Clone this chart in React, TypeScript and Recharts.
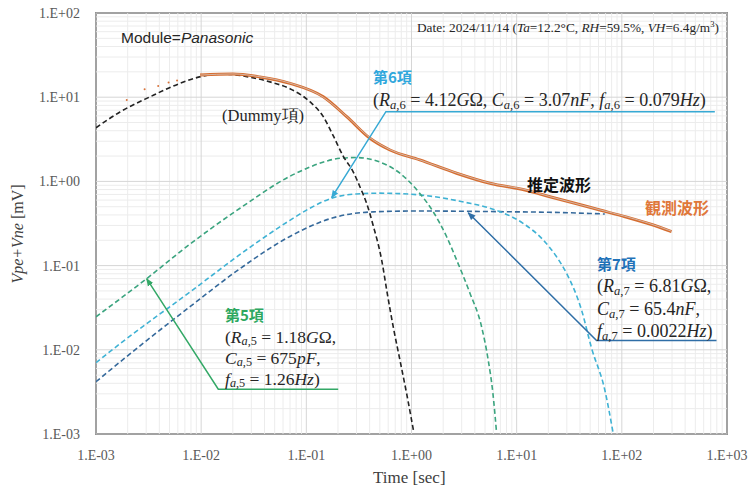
import React from 'react'
import { ComposedChart, Line, XAxis, YAxis, ReferenceLine, ReferenceArea } from 'recharts'

type P = [number, number]

const xTicks = [1e-3, 1e-2, 1e-1, 1, 10, 100, 1000]
const yTicks = [1e-3, 1e-2, 1e-1, 1, 10, 100]

// (time [s], voltage [mV])
const dummyTerm: P[] = [
  [1e-3, 4.34], [1.69e-3, 6.67], [3.26e-3, 10.1], [6.29e-3, 14.6], [0.01, 17.6], [0.0151, 18.9],
  [0.0291, 17.3], [0.0451, 15.2], [0.0698, 12.6], [0.108, 8.85], [0.145, 5.87], [0.18, 3.5],
  [0.224, 2.0], [0.279, 1.3], [0.323, 0.865], [0.374, 0.55], [0.432, 0.3], [0.52, 0.117],
  [0.588, 0.0469], [0.67, 0.0188], [0.776, 0.00757], [0.898, 0.00304], [1.054, 0.00103],
]
const term5: P[] = [
  [1e-3, 0.0247], [3.03e-3, 0.07], [7.83e-3, 0.18], [0.0234, 0.48], [0.0698, 1.15], [0.108, 1.48],
  [0.15, 1.72], [0.208, 1.88], [0.3, 1.92], [0.432, 1.8], [0.776, 1.25], [1.2, 0.72], [1.6, 0.44],
  [2.16, 0.22], [2.69, 0.116], [3.59, 0.0473], [4.64, 0.0188], [5.36, 0.00757], [5.94, 0.00307],
  [6.44, 0.00103],
]
const term6: P[] = [
  [1e-3, 0.00703], [1.69e-3, 0.0118], [7.83e-3, 0.0486], [0.0291, 0.165], [0.0698, 0.345], [0.108, 0.48],
  [0.18, 0.64], [0.3, 0.71], [0.5, 0.725], [1.2, 0.69], [3.34, 0.56], [5.56, 0.48], [11.5, 0.318],
  [17.9, 0.201], [23.9, 0.128], [29.8, 0.081], [41.4, 0.0297], [51.5, 0.0105], [68.9, 0.00333],
  [82.6, 0.00103],
]
const term7: P[] = [
  [1e-3, 0.00418], [2.82e-3, 0.012], [7.83e-3, 0.0325], [0.0234, 0.092], [0.0698, 0.222], [0.18, 0.37],
  [0.432, 0.435], [1.2, 0.445], [6.92, 0.437], [25.8, 0.427], [68.9, 0.41],
]
const observed: P[] = [
  [9.75e-3, 18.4], [0.02, 18.9], [0.0362, 17.4], [0.0698, 14.6], [0.145, 10.1], [0.242, 5.87],
  [0.402, 3.25], [0.624, 2.36], [1.2, 1.8], [2.68, 1.25], [5.56, 0.949], [11.97, 0.79], [20.7, 0.658],
  [35.7, 0.55], [61.8, 0.457], [107, 0.381], [185, 0.312], [297, 0.253],
]
const estimated: P[] = [
  [9.75e-3, 18.3], [0.02, 18.9], [0.0362, 17.5], [0.0698, 14.7], [0.145, 10.0], [0.242, 5.9],
  [0.402, 3.3], [0.624, 2.38], [1.2, 1.8], [2.68, 1.26], [5.56, 0.955], [11.97, 0.8], [20.7, 0.66],
  [35.7, 0.55], [61.8, 0.46], [107, 0.385], [185, 0.315], [297, 0.256],
]
const observedNoise: P[] = [
  [1.96e-3, 9.27], [2.9e-3, 12.4], [3.9e-3, 13.6], [4.9e-3, 14.9], [5.9e-3, 15.8],
]

// annotation leaders: arrow tip, elbow, end
const leader5: P[] = [[3.03e-3, 0.07], [0.01455, 0.0034], [0.201, 0.0034]]
const leader6: P[] = [[0.174, 0.64], [0.571, 6.73], [766, 6.73]]
const leader7: P[] = [[3.46, 0.425], [57.5, 0.0129], [795, 0.0129]]

const toRows = (pts: P[]) => pts.map(([x, y]) => ({ x, y }))

const minors = (from: number, to: number) => {
  const out: number[] = []
  for (let n = from; n < to; n++) for (let k = 2; k <= 9; k++) out.push(k * Math.pow(10, n))
  return out
}
const minorX = minors(-3, 3)
const minorY = minors(-3, 2)

const fmt = (v: number) => {
  const e = Math.round(Math.log10(v))
  return `1.E${e < 0 ? '-' : '+'}${String(Math.abs(e)).padStart(2, '0')}`
}

const serif = '"Liberation Serif", "DejaVu Serif", serif'
const sans = '"Noto Sans CJK JP", "Noto Sans", sans-serif'
const tickStyle = { fill: '#595959', fontSize: 14, fontFamily: serif }

const Sub = ({ v, n }: { v: string; n: string }) => (
  <>
    <i>{v}</i>
    <sub style={{ fontSize: '0.7em', verticalAlign: '-0.2em', lineHeight: 0 }}>
      <i>a</i>,{n}
    </sub>
  </>
)

const txt = (left: number, top: number, extra: React.CSSProperties = {}): React.CSSProperties => ({
  position: 'absolute',
  left,
  top,
  whiteSpace: 'nowrap',
  lineHeight: 1,
  fontFamily: serif,
  color: '#262626',
  ...extra,
})

const Arrow = ({ id, color }: { id: string; color: string }) => (
  <marker id={id} viewBox="0 0 10 10" refX="9" refY="5" markerWidth="8" markerHeight="8"
    markerUnits="userSpaceOnUse" orient="auto-start-reverse">
    <path d="M0,1 L10,5 L0,9 z" fill={color} />
  </marker>
)

export default function App() {
  const c5 = '#33a866'
  const c6 = '#37a9d4'
  const c7 = '#2f6ea6'
  const math = { fontSize: 18 }
  const mathSm = { fontSize: 17.5 }
  return (
    <div style={{ position: 'absolute', left: 0, top: 0, width: 755, height: 492, background: '#fff' }}>
      <svg width={0} height={0} style={{ position: 'absolute' }}>
        <defs>
          <Arrow id="ah5" color={c5} />
          <Arrow id="ah6" color={c6} />
          <Arrow id="ah7" color={c7} />
        </defs>
      </svg>
      <ComposedChart width={755} height={492} margin={{ top: 13, right: 28, left: 0, bottom: 0 }}>
        <XAxis dataKey="x" type="number" scale="log" domain={[1e-3, 1e3]} ticks={xTicks}
          tickFormatter={fmt} allowDataOverflow axisLine={false} tickLine={false} tickSize={0}
          tickMargin={16} height={58} tick={tickStyle} />
        <YAxis dataKey="y" type="number" scale="log" domain={[1e-3, 1e2]} ticks={yTicks}
          tickFormatter={fmt} allowDataOverflow axisLine={false} tickLine={false} tickSize={0}
          tickMargin={16} width={96} tick={tickStyle} />

        {minorX.map((v) => (
          <ReferenceLine key={'mx' + v} x={v} stroke="#ececec" strokeWidth={1} />
        ))}
        {minorY.map((v) => (
          <ReferenceLine key={'my' + v} y={v} stroke="#ececec" strokeWidth={1} />
        ))}
        {xTicks.map((v) => (
          <ReferenceLine key={'Mx' + v} x={v} stroke="#d6d6d6" strokeWidth={1} />
        ))}
        {yTicks.map((v) => (
          <ReferenceLine key={'My' + v} y={v} stroke="#d6d6d6" strokeWidth={1} />
        ))}

        <Line data={toRows(term7)} dataKey="y" type="monotone" stroke="#35699b" strokeWidth={1.6}
          strokeDasharray="5 3" dot={false} activeDot={false} isAnimationActive={false} />
        <Line data={toRows(term6)} dataKey="y" type="monotone" stroke="#3fb2d4" strokeWidth={1.6}
          strokeDasharray="5 3" dot={false} activeDot={false} isAnimationActive={false} />
        <Line data={toRows(term5)} dataKey="y" type="monotone" stroke="#3ba47f" strokeWidth={1.6}
          strokeDasharray="5 3" dot={false} activeDot={false} isAnimationActive={false} />
        <Line data={toRows(dummyTerm)} dataKey="y" type="monotone" stroke="#222" strokeWidth={1.6}
          strokeDasharray="5 3" dot={false} activeDot={false} isAnimationActive={false} />
        <Line data={toRows(observedNoise)} dataKey="y" stroke="none" isAnimationActive={false}
          dot={{ r: 1, fill: '#d9733a', stroke: 'none' }} activeDot={false} />
        <Line data={toRows(observed)} dataKey="y" type="monotone" stroke="#d66d30" strokeWidth={3}
          dot={false} activeDot={false} isAnimationActive={false} />
        <Line data={toRows(estimated)} dataKey="y" type="monotone" stroke="#d4cfcc" strokeWidth={1}
          strokeOpacity={0.75} dot={false} activeDot={false} isAnimationActive={false} />

        <Line data={toRows(leader5)} dataKey="y" type="linear" stroke={c5} strokeWidth={1.5}
          markerStart="url(#ah5)" dot={false} activeDot={false} isAnimationActive={false} />
        <Line data={toRows(leader6)} dataKey="y" type="linear" stroke={c6} strokeWidth={1.5}
          markerStart="url(#ah6)" dot={false} activeDot={false} isAnimationActive={false} />
        <Line data={toRows(leader7)} dataKey="y" type="linear" stroke={c7} strokeWidth={1.5}
          markerStart="url(#ah7)" dot={false} activeDot={false} isAnimationActive={false} />

        <ReferenceArea x1={1e-3} x2={1e3} y1={1e-3} y2={1e2} fill="none" stroke="#404040"
          strokeWidth={1.5} ifOverflow="visible" />
      </ComposedChart>

      <div style={txt(121, 30, { fontFamily: '"Liberation Sans", sans-serif', fontSize: 15.5 })}>
        Module=<i>Panasonic</i>
      </div>
      <div style={txt(417, 21, { fontSize: 13.3 })}>
        Date: 2024/11/14 (<i>Ta</i>=12.2°C, <i>RH</i>=59.5%, <i>VH</i>=6.4g/m<sup style={{ fontSize: '0.65em', lineHeight: 0 }}>3</sup>)
      </div>
      <div style={txt(222, 108, { fontSize: 16.5 })}>(Dummy項)</div>

      <div style={txt(373, 69, { fontFamily: sans, fontWeight: 700, fontSize: 15, color: '#2fa7dc' })}>第6項</div>
      <div style={txt(373, 91, math)}>
        (<Sub v="R" n="6" /> = 4.12<i>G</i>Ω, <Sub v="C" n="6" /> = 3.07<i>nF</i>, <Sub v="f" n="6" /> = 0.079<i>Hz</i>)
      </div>

      <div style={txt(527, 176, { fontFamily: sans, fontWeight: 700, fontSize: 16, color: '#111' })}>推定波形</div>
      <div style={txt(645, 199, { fontFamily: sans, fontWeight: 700, fontSize: 16, color: '#e0783a' })}>観測波形</div>

      <div style={txt(597, 256, { fontFamily: sans, fontWeight: 700, fontSize: 15, color: '#1f72b8' })}>第7項</div>
      <div style={txt(597, 277, math)}>
        (<Sub v="R" n="7" /> = 6.81<i>G</i>Ω,
      </div>
      <div style={txt(597, 300, math)}>
        <Sub v="C" n="7" /> = 65.4<i>nF</i>,
      </div>
      <div style={txt(597, 322, math)}>
        <Sub v="f" n="7" /> = 0.0022<i>Hz</i>)
      </div>

      <div style={txt(225, 307, { fontFamily: sans, fontWeight: 700, fontSize: 15, color: '#2ea860' })}>第5項</div>
      <div style={txt(225, 329, mathSm)}>
        (<Sub v="R" n="5" /> = 1.18<i>G</i>Ω,
      </div>
      <div style={txt(225, 350, mathSm)}>
        <Sub v="C" n="5" /> = 675<i>pF</i>,
      </div>
      <div style={txt(225, 371, mathSm)}>
        <Sub v="f" n="5" /> = 1.26<i>Hz</i>)
      </div>

      <div style={txt(373, 469, { fontSize: 17, color: '#404040' })}>Time [sec]</div>
      <div style={{ ...txt(-32, 226, { fontSize: 16, color: '#404040' }), transform: 'rotate(-90deg)', width: 100, textAlign: 'center' }}>
        <i>Vpe+Vne</i> [mV]
      </div>
    </div>
  )
}
